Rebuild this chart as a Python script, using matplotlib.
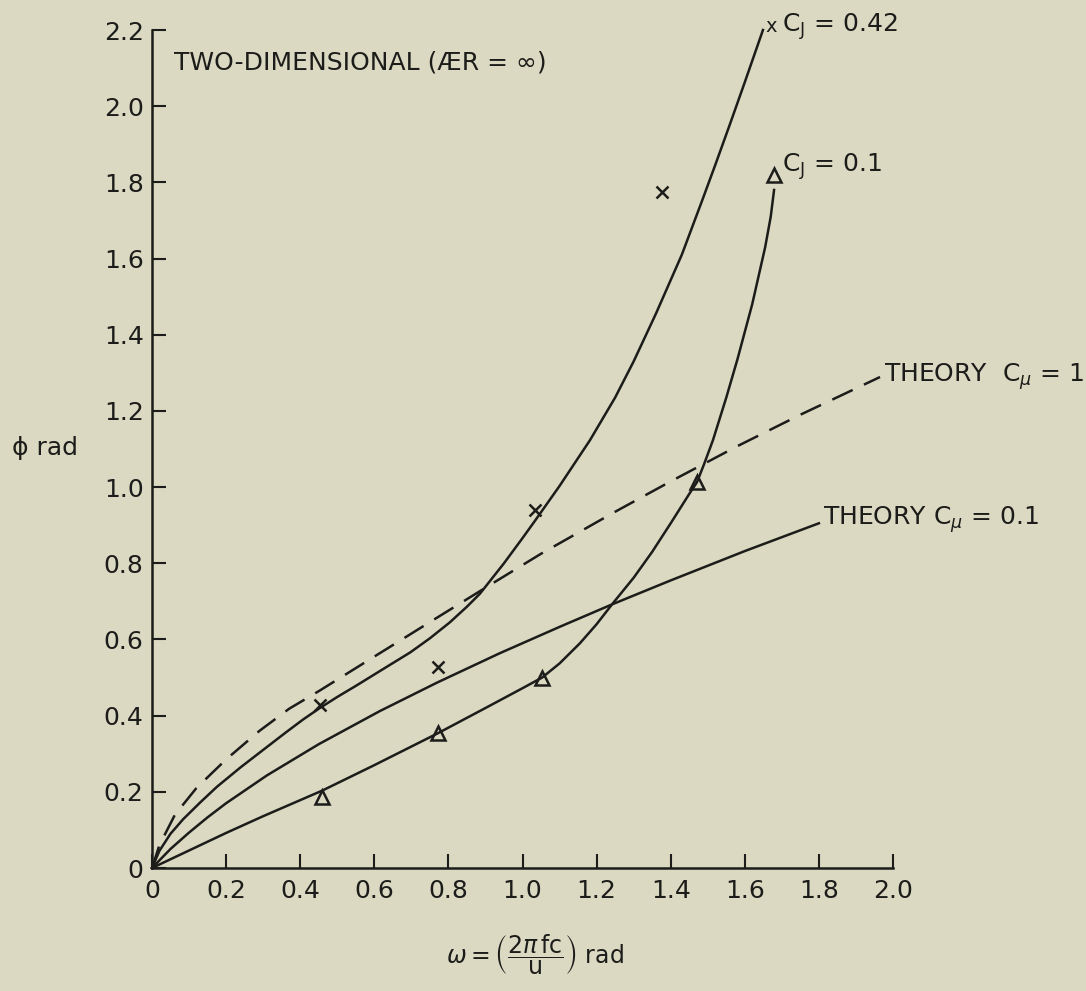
import matplotlib
matplotlib.use("Agg")
import matplotlib.pyplot as plt

# ---- data ----
xticks = [0, 0.2, 0.4, 0.6, 0.8, 1.0, 1.2, 1.4, 1.6, 1.8, 2.0]
xticklabels = ["0", "0.2", "0.4", "0.6", "0.8", "1.0", "1.2", "1.4", "1.6", "1.8", "2.0"]
yticks = [0, 0.2, 0.4, 0.6, 0.8, 1.0, 1.2, 1.4, 1.6, 1.8, 2.0, 2.2]
yticklabels = ["0", "0.2", "0.4", "0.6", "0.8", "1.0", "1.2", "1.4", "1.6", "1.8", "2.0", "2.2"]

# C_J = 0.42 faired curve
cj042_x = [0, 0.02, 0.05, 0.084, 0.13, 0.175, 0.24, 0.3, 0.36, 0.408, 0.453, 0.5, 0.55, 0.62,
           0.697, 0.75, 0.804, 0.85, 0.885, 0.95, 1.0, 1.034, 1.1, 1.182, 1.25, 1.3, 1.36,
           1.43, 1.484, 1.52, 1.56, 1.6, 1.649]
cj042_y = [0, 0.045, 0.09, 0.128, 0.172, 0.213, 0.265, 0.31, 0.355, 0.39, 0.42, 0.449, 0.478, 0.52,
           0.566, 0.603, 0.645, 0.686, 0.72, 0.80, 0.866, 0.912, 1.003, 1.123, 1.235, 1.33, 1.455,
           1.61, 1.75, 1.845, 1.953, 2.063, 2.2]
# C_J = 0.42 measured points (x)
cj042_px = [0.453, 0.772, 1.034, 1.376]
cj042_py = [0.428, 0.528, 0.94, 1.774]

# C_J = 0.1 faired curve
cj01_x = [0, 0.1, 0.2, 0.3, 0.459, 0.6, 0.772, 0.9, 1.0, 1.053, 1.1, 1.155, 1.2, 1.244, 1.3,
          1.35, 1.4, 1.45, 1.471, 1.49, 1.514, 1.55, 1.58, 1.62, 1.655, 1.67, 1.679]
cj01_y = [0, 0.046, 0.092, 0.136, 0.203, 0.27, 0.354, 0.42, 0.472, 0.50, 0.537, 0.59, 0.64, 0.695, 0.762,
          0.83, 0.905, 0.982, 1.013, 1.06, 1.123, 1.235, 1.335, 1.48, 1.63, 1.71, 1.78]
# C_J = 0.1 measured points (triangles)
cj01_px = [0.459, 0.772, 1.053, 1.471, 1.679]
cj01_py = [0.186, 0.354, 0.50, 1.013, 1.82]

# Theory C_mu = 0.1
th01_x = [0, 0.05, 0.1, 0.15, 0.2, 0.31, 0.45, 0.615, 0.77, 0.939, 1.1, 1.244, 1.4, 1.6, 1.8]
th01_y = [0, 0.05, 0.093, 0.133, 0.17, 0.243, 0.325, 0.412, 0.487, 0.564, 0.633, 0.693, 0.755, 0.832, 0.905]

# Theory C_mu = 1
th1_x = [0, 0.02, 0.062, 0.12, 0.2, 0.29, 0.37, 0.453, 0.6, 0.759, 0.912, 1.05, 1.244, 1.4, 1.579, 1.75, 1.965]
th1_y = [0, 0.06, 0.14, 0.21, 0.285, 0.36, 0.418, 0.466, 0.555, 0.651, 0.743, 0.825, 0.932, 1.015, 1.107, 1.19, 1.289]

# ---- figure ----
BG = "#dcd9c2"
INK = "#1c1c1a"
W, H = 1086, 991
fig = plt.figure(figsize=(W / 100, H / 100), dpi=100, facecolor=BG)
ax = fig.add_axes([152 / W, (H - 868) / H, (893 - 152) / W, (868 - 30) / H])
ax.set_facecolor(BG)
ax.set_xlim(0, 2.0)
ax.set_ylim(0, 2.2)

for s in ("top", "right"):
    ax.spines[s].set_visible(False)
for s in ("left", "bottom"):
    ax.spines[s].set_linewidth(1.8)
    ax.spines[s].set_color(INK)

ax.set_xticks(xticks)
ax.set_xticklabels(xticklabels)
ax.set_yticks(yticks)
ax.set_yticklabels(yticklabels)
ax.tick_params(direction="in", length=10, width=1.5, color=INK, labelsize=18, labelcolor=INK)
ax.tick_params(axis="x", pad=8)
ax.tick_params(axis="y", pad=6)

lw = 1.8
ax.plot(cj042_x, cj042_y, color=INK, lw=lw, clip_on=False, solid_joinstyle="round")
ax.plot(cj01_x, cj01_y, color=INK, lw=lw, clip_on=False, solid_joinstyle="round")
ax.plot(th01_x, th01_y, color=INK, lw=lw, clip_on=False, solid_joinstyle="round")
ax.plot(th1_x, th1_y, color=INK, lw=lw, ls=(0, (9, 5)), clip_on=False)

ax.plot(cj042_px, cj042_py, ls="none", marker="x", ms=8, mew=1.8, color=INK, clip_on=False)
ax.plot(cj01_px, cj01_py, ls="none", marker="^", ms=10, mew=1.8, mfc="none", mec=INK, clip_on=False)

# curve labels
fs = 18
ax.text(1.655, 2.21, "x", fontsize=14, color=INK, va="center", ha="left")
ax.text(1.70, 2.21, r"C$_\mathrm{J}$ = 0.42", fontsize=fs, color=INK, va="center", ha="left")
ax.text(1.70, 1.84, r"C$_\mathrm{J}$ = 0.1", fontsize=fs, color=INK, va="center", ha="left")
ax.text(1.975, 1.29, r"THEORY  C$_\mu$ = 1", fontsize=fs, color=INK, va="center", ha="left")
ax.text(1.81, 0.915, r"THEORY C$_\mu$ = 0.1", fontsize=fs, color=INK, va="center", ha="left")
ax.text(0.06, 2.115, "TWO-DIMENSIONAL (ÆR = ∞)", fontsize=18, color=INK, va="center", ha="left")

# axis labels
fig.text(12 / W, 1 - 448 / H, "ϕ rad", fontsize=18, color=INK, va="center", ha="left")
fig.text(535 / W, 1 - 955 / H, r"$\omega = \left(\dfrac{2\pi\,\mathrm{fc}}{\mathrm{u}}\right)$ rad",
         fontsize=17, color=INK, va="center", ha="center")

fig.savefig("out.png", dpi=100, facecolor=BG)
